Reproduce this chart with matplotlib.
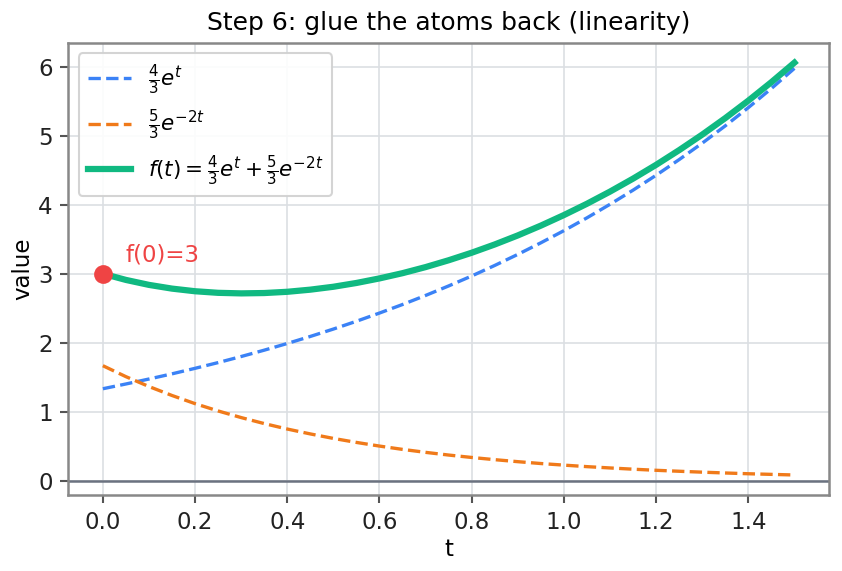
import matplotlib
matplotlib.use("Agg")
import matplotlib.pyplot as plt

t = [0.00, 0.05, 0.10, 0.15, 0.20, 0.25, 0.30, 0.35, 0.40, 0.45, 0.50,
     0.55, 0.60, 0.65, 0.70, 0.75, 0.80, 0.85, 0.90, 0.95, 1.00,
     1.05, 1.10, 1.15, 1.20, 1.25, 1.30, 1.35, 1.40, 1.45, 1.50]
atom1 = [1.333, 1.402, 1.474, 1.549, 1.629, 1.712, 1.800, 1.892, 1.989, 2.091, 2.198,
         2.311, 2.430, 2.554, 2.685, 2.823, 2.967, 3.120, 3.280, 3.448, 3.624,
         3.810, 4.006, 4.211, 4.427, 4.654, 4.892, 5.143, 5.407, 5.684, 5.976]
atom2 = [1.667, 1.508, 1.365, 1.235, 1.117, 1.011, 0.915, 0.828, 0.749, 0.678, 0.613,
         0.555, 0.502, 0.454, 0.411, 0.372, 0.337, 0.305, 0.276, 0.249, 0.226,
         0.204, 0.185, 0.167, 0.151, 0.137, 0.124, 0.112, 0.101, 0.092, 0.083]
f_vals = [3.000, 2.910, 2.838, 2.784, 2.746, 2.723, 2.715, 2.720, 2.738, 2.769, 2.811,
          2.866, 2.932, 3.008, 3.096, 3.195, 3.304, 3.424, 3.555, 3.697, 3.850,
          4.014, 4.190, 4.378, 4.578, 4.791, 5.016, 5.255, 5.508, 5.776, 6.059]
point_t = [0.0]
point_f = [3.0]
labels = [r"$\frac{4}{3}e^{t}$", r"$\frac{5}{3}e^{-2t}$",
          r"$f(t)=\frac{4}{3}e^{t}+\frac{5}{3}e^{-2t}$"]
title = "Step 6: glue the atoms back (linearity)"

plt.rcParams["font.family"] = ["DejaVu Sans"]
fig = plt.figure(figsize=(842/150, 571/150), dpi=150)
ax = fig.add_axes([68.3/842, 1-495/571, (829-68.3)/842, (495-42.7)/571])

ax.grid(True, color="#dcdfe3", linewidth=0.8)
ax.set_axisbelow(True)
ax.axhline(0, color="#6b7280", linewidth=1.2, zorder=1)
ax.plot(t, atom1, color="#3b82f6", linestyle="--", linewidth=1.6, label=labels[0])
ax.plot(t, atom2, color="#f07a1a", linestyle="--", linewidth=1.6, label=labels[1])
ax.plot(t, f_vals, color="#10b981", linewidth=3.0, label=labels[2])
ax.plot(point_t, point_f, "o", color="#ef4444", markersize=8, zorder=5)
ax.annotate("f(0)=3", (point_t[0], point_f[0]), xytext=(11, 6),
            textcoords="offset points", color="#ef4444", fontsize=11)

for s in ax.spines.values():
    s.set_color("#888888")
    s.set_linewidth(1.2)
ax.tick_params(colors="#555555", labelcolor="#222222", labelsize=11, length=4, width=1)
ax.set_xlabel("t", fontsize=11, labelpad=2)
ax.set_ylabel("value", fontsize=11, labelpad=2)
ax.set_title(title, fontsize=12)
ax.set_xlim(-0.075, 1.575)
ax.set_ylim(-0.207, 6.348)
leg = ax.legend(loc="upper left", fontsize=10.3, framealpha=0.9, edgecolor="#d0d0d0",
                handlelength=2.0, labelspacing=0.5)
fig.savefig("out.png", dpi=150)
